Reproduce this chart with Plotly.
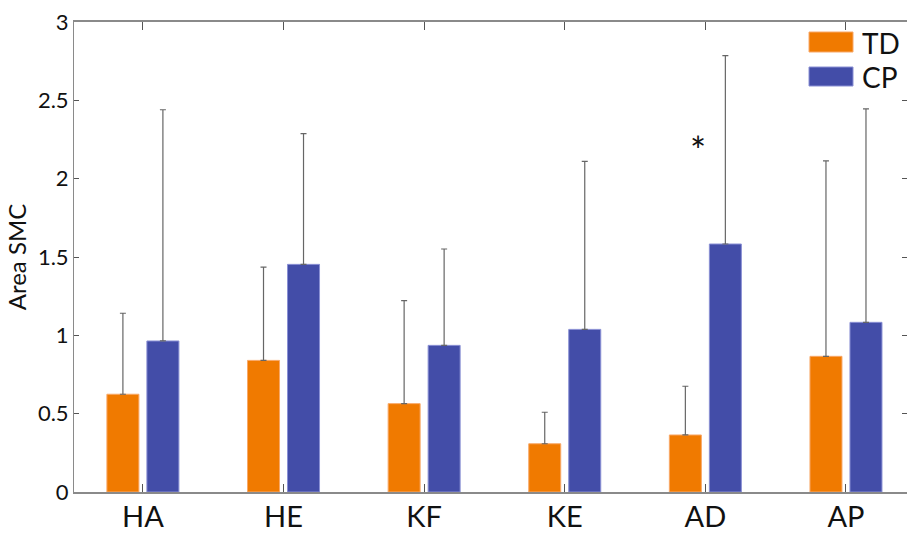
import plotly.graph_objects as go

categories = ["HA", "HE", "KF", "KE", "AD", "AP"]
td_mean = [0.624, 0.84, 0.564, 0.308, 0.364, 0.866]
td_err = [0.517, 0.596, 0.657, 0.201, 0.311, 1.247]
cp_mean = [0.964, 1.453, 0.936, 1.038, 1.583, 1.083]
cp_err = [1.476, 0.834, 0.615, 1.073, 1.202, 1.362]
y_ticks = [0, 0.5, 1, 1.5, 2, 2.5, 3]
y_tick_text = ["0", "0.5", "1", "1.5", "2", "2.5", "3"]

ORANGE = "#F07A00"
BLUE = "#434DA8"
FONT = "Lato, sans-serif"

W, H = 907, 536
L, R, T, B = 74, 0, 22, 44
pw, ph = W - L - R, H - T - B

def px(x):
    return (x - L) / pw

def py(y):
    return (H - B - y) / ph

fig = go.Figure()
fig.add_trace(go.Bar(
    x=categories, y=td_mean, name="TD",
    marker=dict(color=ORANGE, line=dict(color="#F8A868", width=1)),
    error_y=dict(type="data", array=td_err, arrayminus=[0] * len(td_err), symmetric=False,
                 color="#666666", thickness=1.2, width=3),
    showlegend=False,
))
fig.add_trace(go.Bar(
    x=categories, y=cp_mean, name="CP",
    marker=dict(color=BLUE, line=dict(color="#8A90D4", width=1)),
    error_y=dict(type="data", array=cp_err, arrayminus=[0] * len(cp_err), symmetric=False,
                 color="#666666", thickness=1.2, width=3),
    showlegend=False,
))
# invisible trace so the right-side tick marks are drawn
fig.add_trace(go.Scatter(x=[categories[0]], y=[0], yaxis="y2", mode="markers",
                         marker=dict(opacity=0), showlegend=False, hoverinfo="skip"))

fig.update_layout(
    width=W, height=H,
    margin=dict(l=L, r=R, t=T, b=B, pad=0),
    paper_bgcolor="white", plot_bgcolor="white",
    barmode="group", bargap=0.431, bargroupgap=0.2,
    font=dict(family=FONT, color="#111111"),
    xaxis=dict(
        type="category", range=[-0.49, 5.434], automargin=False,
        showline=True, linecolor="#8a8a8a", linewidth=1.5, mirror="ticks",
        ticks="inside", ticklen=8, tickcolor="#555555", tickwidth=1,
        tickfont=dict(size=29, family=FONT, color="#111111"),
        ticklabelstandoff=-2,
        showgrid=False, zeroline=False,
    ),
    yaxis=dict(
        range=[0, 3], tickvals=y_ticks, ticktext=y_tick_text, automargin=False,
        showline=True, linecolor="#8a8a8a", linewidth=1,
        ticks="inside", ticklen=5, tickcolor="#555555", tickwidth=1,
        tickfont=dict(size=22, family=FONT, color="#111111"),
        showgrid=False, zeroline=False,
        title=dict(text="Area SMC", font=dict(size=24, family=FONT, color="#111111"), standoff=4),
    ),
    yaxis2=dict(
        range=[0, 3], tickvals=y_ticks, overlaying="y", side="right", automargin=False,
        showline=False, ticks="inside", ticklen=5, tickcolor="#555555",
        showticklabels=False, showgrid=False, zeroline=False,
    ),
)

# legend (manual)
fig.add_shape(type="rect", xref="paper", yref="paper",
              x0=px(809), x1=px(853), y0=py(52), y1=py(32),
              fillcolor=ORANGE, line=dict(color="#F8A868", width=1))
fig.add_shape(type="rect", xref="paper", yref="paper",
              x0=px(809), x1=px(853), y0=py(86), y1=py(67),
              fillcolor=BLUE, line=dict(color="#8A90D4", width=1))
fig.add_annotation(text="TD", xref="paper", yref="paper", x=px(860), y=py(43),
                   xanchor="left", yanchor="middle", showarrow=False,
                   font=dict(size=28, family=FONT, color="#111111"))
fig.add_annotation(text="CP", xref="paper", yref="paper", x=px(860), y=py(77),
                   xanchor="left", yanchor="middle", showarrow=False,
                   font=dict(size=28, family=FONT, color="#111111"))

# significance marker
fig.add_annotation(text="*", x="AD", y=2.18, xshift=-7, showarrow=False,
                   font=dict(size=38, family=FONT, color="#111111"))

fig.write_html("out.html")
